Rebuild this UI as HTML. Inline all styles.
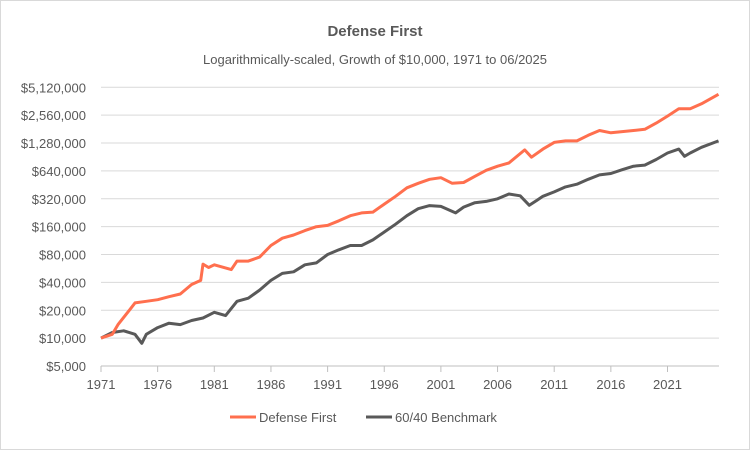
<!DOCTYPE html>
<html><head><meta charset="utf-8"><style>
body{margin:0;background:#fff;}
svg{display:block;font-family:"Liberation Sans",sans-serif;}
</style></head><body>
<svg id="chart" width="750" height="450">
<rect x="0.5" y="0.5" width="749" height="449" fill="#fff" stroke="#d9d9d9"/>
<text x="375" y="36" text-anchor="middle" font-size="15" font-weight="bold" fill="#595959">Defense First</text>
<text x="375" y="64" text-anchor="middle" font-size="13" fill="#595959">Logarithmically-scaled, Growth of $10,000, 1971 to 06/2025</text>
<g id="grid"></g><g id="yaxis"></g><g id="xaxis"></g><g id="series"></g>
<g>
<line x1="230" y1="417" x2="256" y2="417" stroke="#ff6f4e" stroke-width="3"/>
<text x="259" y="422" font-size="13" fill="#595959">Defense First</text>
<line x1="366" y1="417" x2="392" y2="417" stroke="#595959" stroke-width="3"/>
<text x="395" y="422" font-size="13" fill="#595959">60/40 Benchmark</text>
</g>
</svg>
<script>
const yTicks=[5000,10000,20000,40000,80000,160000,320000,640000,1280000,2560000,5120000];
const xTicks=[1971,1976,1981,1986,1991,1996,2001,2006,2011,2016,2021];
const dfYears=[1971,1972,1972.5,1973.5,1974,1975,1976,1977,1978,1979,1979.8,1980,1980.5,1981,1982.5,1983,1984,1985,1986,1987,1988,1989,1990,1991,1992,1993,1994,1995,1996,1997,1998,1999,2000,2001,2002,2003,2004,2005,2006,2007,2008.4,2009,2010,2011,2012,2013,2014,2015,2016,2017,2018,2019,2020,2021,2022,2023,2024,2025.5];
const dfValues=[10000,11000,14000,20000,24000,25000,26000,28000,30000,38000,42000,63000,58000,62000,55000,68000,68000,75000,100000,120000,130000,145000,160000,165000,185000,210000,225000,230000,280000,340000,420000,470000,520000,540000,470000,480000,560000,650000,720000,780000,1080000,900000,1100000,1300000,1350000,1350000,1550000,1750000,1650000,1700000,1750000,1800000,2100000,2500000,3000000,3000000,3400000,4300000];
const bmYears=[1971,1972,1973,1974,1974.6,1975,1976,1977,1978,1979,1980,1981,1982,1983,1984,1985,1986,1987,1988,1989,1990,1991,1992,1993,1994,1995,1996,1997,1998,1999,2000,2001,2002.3,2003,2004,2005,2006,2007,2008,2008.8,2009.5,2010,2011,2012,2013,2014,2015,2016,2017,2018,2019,2020,2021,2022,2022.5,2023,2024,2025.5];
const bmValues=[10000,11500,12000,11000,8800,11000,13000,14500,14000,15500,16500,19000,17500,25000,27000,33000,42000,50000,52000,62000,65000,80000,90000,100000,100000,115000,140000,170000,210000,250000,270000,265000,225000,260000,290000,300000,320000,360000,345000,272000,310000,340000,380000,430000,460000,520000,580000,600000,660000,720000,740000,850000,1000000,1100000,920000,1000000,1150000,1350000];
const NS='http://www.w3.org/2000/svg';
const X0=101,X1=719,Y0=366,YT=87.3;
const xs=y=>X0+(y-1971)*11.33;
const ys=v=>Y0-(Math.log2(v/5000))*(Y0-YT)/10;
function mk(t,a,p){const e=document.createElementNS(NS,t);for(const k in a)e.setAttribute(k,a[k]);p.appendChild(e);return e;}
const grid=document.getElementById('grid'),ya=document.getElementById('yaxis'),xa=document.getElementById('xaxis'),se=document.getElementById('series');
yTicks.forEach(v=>{
 const y=ys(v);
 if(v!==5000){const g=mk('line',{x1:X0,x2:X1,y1:y,y2:y,stroke:'#d9d9d9','stroke-width':1},grid);
 
 }
 const t=mk('text',{x:86,y:y+5,'text-anchor':'end','font-size':13,fill:'#595959'},ya);
 t.textContent='$'+v.toLocaleString('en-US');
 
 
});
const ax=mk('line',{x1:X0,x2:X1,y1:Y0,y2:Y0,stroke:'#bfbfbf'},xa);


xTicks.forEach(yr=>{
 const x=xs(yr);
 const tk=mk('line',{x1:x,x2:x,y1:Y0,y2:Y0+6,stroke:'#bfbfbf'},xa);
 
 
 const t=mk('text',{x:x,y:389,'text-anchor':'middle','font-size':13,fill:'#595959'},xa);
 t.textContent=yr;
 
 
});
function line(years,vals,col,name){
 const d=years.map((y,i)=>(i?'L':'M')+xs(y).toFixed(1)+','+ys(vals[i]).toFixed(1)).join('');
 const p=mk('path',{d:d,fill:'none',stroke:col,'stroke-width':3,'stroke-linejoin':'round'},se);
 
 
}
line(bmYears,bmValues,'#595959','benchmark-line');
line(dfYears,dfValues,'#ff6f4e','defense-first-line');
</script>
</body></html>
